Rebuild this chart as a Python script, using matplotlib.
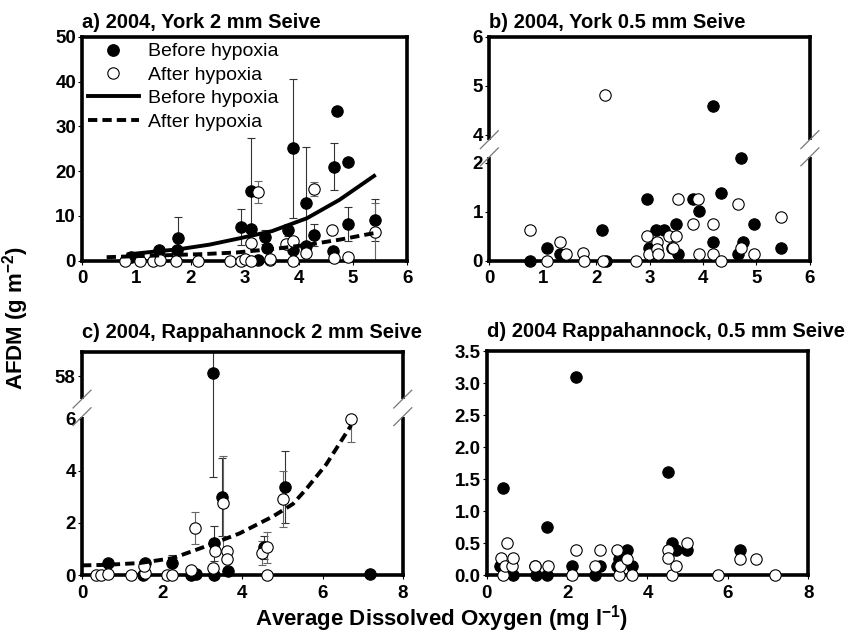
import numpy as np
import matplotlib
matplotlib.use('Agg')
import matplotlib.pyplot as plt
from matplotlib.lines import Line2D
from matplotlib.patches import Rectangle
from matplotlib.ticker import FixedLocator, FormatStrFormatter

plt.rcParams['font.family'] = ['Liberation Sans', 'DejaVu Sans']
plt.rcParams['mathtext.fontset'] = 'custom'
plt.rcParams['mathtext.rm'] = 'Liberation Sans:bold'
plt.rcParams['mathtext.bf'] = 'Liberation Sans:bold'
plt.rcParams['mathtext.default'] = 'regular'

# ---------------- Panel a: York 2 mm ----------------
a_bef_x = [0.90, 1.42, 1.75, 1.77, 2.93, 3.11, 3.11, 3.25, 3.37, 3.42, 3.80, 3.90, 3.90,
           4.14, 4.14, 4.28, 4.64, 4.65, 4.70, 4.91, 4.91, 5.41]
a_bef_y = [0.8, 2.3, 2.3, 5.05, 7.5, 7.1, 15.6, 0.2, 5.3, 2.8, 6.9, 25.1, 2.3,
           12.8, 3.2, 5.8, 2.1, 21.0, 33.5, 22.1, 8.2, 9.1]
a_bef_e = [0, 0, 0, 4.65, 4.0, 0, 11.9, 0, 1.6, 0, 1.3, 15.5, 0,
           12.6, 0, 2.4, 0, 5.3, 0, 0, 3.8, 4.6]
a_aft_x = [0.79, 1.07, 1.31, 1.43, 1.74, 2.14, 2.73, 2.94, 3.00, 3.11, 3.11, 3.25, 3.47, 3.47,
           3.77, 3.90, 3.90, 4.14, 4.28, 4.62, 4.65, 4.91, 5.41]
a_aft_y = [0.0, 0.0, 0.0, 0.2, 0.0, 0.0, 0.0, 0.0, 0.4, 0.0, 3.9, 15.4, 0.2, 0.3,
           3.8, 4.5, 0.0, 1.7, 16.0, 6.9, 0.6, 0.8, 6.5]
a_aft_e = [0, 0, 0, 0, 0, 0, 0, 0, 0, 0, 0, 2.4, 0, 0,
           0, 0, 0, 0, 1.6, 0, 0, 0, 6.4]
a_fit_bef_x = [0.82, 1.30, 1.80, 2.35, 2.90, 3.50, 4.15, 4.75, 5.42]
a_fit_bef_y = [1.4, 2.0, 2.6, 3.6, 5.0, 6.6, 9.5, 13.6, 19.2]
a_fit_aft_x = [0.45, 1.20, 2.25, 2.85, 3.65, 4.15, 4.75, 5.40]
a_fit_aft_y = [0.8, 1.1, 1.5, 1.85, 2.8, 3.55, 4.7, 6.2]

# ---------------- Panel b: York 0.5 mm ----------------
b_bef_x = [0.76, 1.07, 1.32, 2.11, 2.18, 2.96, 2.98, 3.12, 3.27, 3.42, 3.49, 3.54, 3.81,
           3.93, 4.18, 4.18, 4.33, 4.71, 4.66, 4.74, 4.96, 5.46]
b_bef_y = [0.0, 0.26, 0.13, 0.63, 0.0, 1.27, 0.26, 0.63, 0.63, 0.26, 0.76, 0.13, 1.27,
           1.01, 4.58, 0.39, 1.39, 2.1, 0.13, 0.39, 0.76, 0.26]
b_aft_x = [0.76, 1.07, 1.32, 1.43, 1.75, 1.77, 2.13, 2.16, 2.74, 2.96, 2.99, 3.13, 3.13,
           3.16, 3.37, 3.44, 3.50, 3.54, 3.82, 3.91, 3.93, 4.18, 4.18, 4.33, 4.66, 4.71,
           4.96, 5.46]
b_aft_y = [0.63, 0.0, 0.39, 0.13, 0.15, 0.0, 0.0, 4.82, 0.0, 0.5, 0.13, 0.39, 0.23,
           0.13, 0.5, 0.26, 0.5, 1.27, 0.76, 1.27, 0.13, 0.76, 0.13, 0.0, 1.15, 0.26,
           0.13, 0.89]

# ---------------- Panel c: Rappahannock 2 mm ----------------
c_bef_x = [0.65, 1.52, 1.56, 2.24, 2.72, 2.85, 3.26, 3.28, 3.28, 3.50, 3.64, 4.53, 5.05, 7.17]
c_bef_y = [0.48, 0.0, 0.46, 0.46, 0.0, 0.05, 58.15, 1.22, 0.0, 2.98, 0.14, 1.06, 3.37, 0.05]
c_bef_e = [0, 0, 0, 0.3, 0, 0, 54.4, 0.68, 0, 1.5, 0, 0.45, 1.38, 0]
c_aft_x = [0.36, 0.48, 0.65, 1.23, 1.56, 1.54, 2.12, 2.24, 2.72, 2.81, 3.26, 3.32, 3.51,
           3.62, 3.62, 4.49, 4.62, 4.62, 5.01, 6.71]
c_aft_y = [0.0, 0.0, 0.05, 0.0, 0.08, 0.33, 0.0, 0.0, 0.18, 1.81, 0.27, 0.94, 2.78,
           0.94, 0.6, 0.84, 1.06, 0.0, 2.92, 6.0]
c_aft_e = [0, 0, 0, 0, 0, 0, 0, 0, 0, 0.6, 0, 0, 1.8,
           0, 0, 0.45, 0.58, 0, 1.07, 0.9]
c_fit_x = [0.0, 0.6, 1.44, 2.27, 3.10, 3.93, 4.76, 5.26, 5.59, 6.09, 6.71]
c_fit_y = [0.37, 0.39, 0.46, 0.65, 1.11, 1.60, 2.25, 2.73, 3.30, 4.25, 5.75]

# ---------------- Panel d: Rappahannock 0.5 mm ----------------
d_bef_x = [0.40, 0.33, 0.66, 1.23, 1.20, 1.51, 1.51, 2.11, 2.22, 2.69, 2.82, 3.28, 3.50,
           3.61, 3.25, 4.50, 4.60, 4.71, 4.99, 6.30]
d_bef_y = [1.36, 0.14, 0.0, 0.0, 0.14, 0.75, 0.0, 0.14, 3.1, 0.0, 0.14, 0.25, 0.39,
           0.14, 0.14, 1.61, 0.5, 0.39, 0.39, 0.39]
d_aft_x = [0.35, 0.50, 0.41, 0.46, 0.62, 0.66, 1.20, 1.53, 2.11, 2.22, 2.69, 2.82, 3.25,
           3.28, 3.32, 3.50, 3.61, 4.50, 4.50, 4.60, 4.71, 4.99, 5.75, 6.30, 6.70, 7.17]
d_aft_y = [0.27, 0.5, 0.0, 0.14, 0.14, 0.27, 0.14, 0.14, 0.0, 0.39, 0.14, 0.39, 0.39,
           0.0, 0.14, 0.25, 0.0, 0.39, 0.27, 0.0, 0.14, 0.5, 0.0, 0.25, 0.25, 0.0]

titles = ["a) 2004, York 2 mm Seive", "b) 2004, York 0.5 mm Seive",
          "c) 2004, Rappahannock 2 mm Seive", "d) 2004 Rappahannock, 0.5 mm Seive"]
legend_labels = ["Before hypoxia", "After hypoxia", "Before hypoxia", "After hypoxia"]

MS = 8.2
SPINE_W = 2.6
TICK_FS = 13.5
TITLE_FS = 14.5


def break_scale(lo, hi, gap):
    def fwd(y):
        y = np.asarray(y, dtype=float)
        return np.where(y <= lo, y,
                        np.where(y >= hi, y - hi + lo + gap,
                                 lo + (y - lo) / (hi - lo) * gap))

    def inv(v):
        v = np.asarray(v, dtype=float)
        return np.where(v <= lo, v,
                        np.where(v >= lo + gap, v - lo - gap + hi,
                                 lo + (v - lo) / gap * (hi - lo)))
    return fwd, inv


def break_marks(ax, f_lo, f_hi, dx, dy):
    for xf in (0.0, 1.0):
        ax.add_patch(Rectangle((xf - 0.007, f_lo), 0.014, f_hi - f_lo,
                               transform=ax.transAxes, facecolor='white',
                               edgecolor='none', clip_on=False, zorder=5))
        for yf in (f_lo, f_hi):
            ax.plot([xf - dx, xf + dx], [yf - dy, yf + dy], transform=ax.transAxes,
                    color='#777777', lw=0.9, clip_on=False, zorder=6)


def style(ax, xmax, xstep, title, tpad):
    for s in ax.spines.values():
        s.set_linewidth(SPINE_W)
    ax.set_xlim(0, xmax)
    ax.set_xticks(np.arange(0, xmax + 0.01, xstep))
    ax.tick_params(direction='out', length=3, width=0.8, labelsize=TICK_FS)
    ax.tick_params(axis='x', pad=4)
    ax.tick_params(axis='y', pad=1.5)
    for lab in ax.get_xticklabels() + ax.get_yticklabels():
        lab.set_fontweight('bold')
    ax.set_title(title, loc='left', fontsize=TITLE_FS, fontweight='bold', pad=tpad, x=0.0)


def points(ax, bx, by, ax_, ay, be=None, ae=None):
    if be is not None:
        sel = [i for i, e in enumerate(be) if e > 0]
        ax.errorbar([bx[i] for i in sel], [by[i] for i in sel], yerr=[be[i] for i in sel],
                    fmt='none', ecolor='#333333', elinewidth=0.8, capsize=3.2,
                    capthick=0.8, zorder=2)
    if ae is not None:
        sel = [i for i, e in enumerate(ae) if e > 0]
        ax.errorbar([ax_[i] for i in sel], [ay[i] for i in sel], yerr=[ae[i] for i in sel],
                    fmt='none', ecolor='#666666', elinewidth=0.8, capsize=3.2,
                    capthick=0.8, zorder=2)
    ax.plot(bx, by, 'o', ms=MS, mfc='black', mec='black', mew=0.8, ls='none',
            zorder=3, clip_on=False)
    ax.plot(ax_, ay, 'o', ms=MS, mfc='white', mec='black', mew=0.8, ls='none',
            zorder=3.5, clip_on=False)


fig = plt.figure(figsize=(8.57, 6.36), dpi=100)
axa = fig.add_axes([0.096, 0.590, 0.379, 0.352])
axb = fig.add_axes([0.571, 0.590, 0.374, 0.352])
axc = fig.add_axes([0.0957, 0.0959, 0.3743, 0.3506])
axd = fig.add_axes([0.568, 0.0959, 0.375, 0.3521])

# Panel a
points(axa, a_bef_x, a_bef_y, a_aft_x, a_aft_y, a_bef_e, a_aft_e)
axa.plot(a_fit_bef_x, a_fit_bef_y, '-', color='black', lw=2.8, zorder=4,
         solid_capstyle='butt')
axa.plot(a_fit_aft_x, a_fit_aft_y, '--', color='black', lw=2.8, dashes=(2.4, 1.3), zorder=4)
axa.set_ylim(0, 50)
axa.set_yticks(np.arange(0, 51, 10))
style(axa, 6, 1, titles[0], 6.5)
handles = [Line2D([], [], marker='o', ls='none', ms=MS, mfc='black', mec='black'),
           Line2D([], [], marker='o', ls='none', ms=MS, mfc='white', mec='black', mew=0.8),
           Line2D([], [], color='black', lw=2.8),
           Line2D([], [], color='black', lw=2.8, ls='--', dashes=(2.4, 1.3))]
axa.legend(handles, legend_labels, loc='upper left', frameon=False, fontsize=14,
           handlelength=2.6, handletextpad=0.48, labelspacing=0.3,
           borderaxespad=0.1, borderpad=0.2)

# Panel b (broken axis)
fb, ib = break_scale(2.17, 3.95, 0.35)
points(axb, b_bef_x, b_bef_y, b_aft_x, b_aft_y)
axb.set_yscale('function', functions=(fb, ib))
axb.set_ylim(0, 6)
axb.yaxis.set_major_locator(FixedLocator([0, 1, 2, 4, 5, 6]))
axb.yaxis.set_major_formatter(FormatStrFormatter('%d'))
axb.yaxis.set_minor_locator(FixedLocator([]))
style(axb, 6, 1, titles[1], 6.5)
break_marks(axb, 0.464, 0.541, 0.028, 0.04)

# Panel c (broken axis)
fc, ic = break_scale(6.05, 57.1, 0.68)
points(axc, c_bef_x, c_bef_y, c_aft_x, c_aft_y, c_bef_e, c_aft_e)
axc.plot(c_fit_x, c_fit_y, '--', color='black', lw=2.8, dashes=(2.4, 1.3), zorder=4)
axc.set_yscale('function', functions=(fc, ic))
axc.set_ylim(0, 58.94)
axc.yaxis.set_major_locator(FixedLocator([0, 2, 4, 6, 58]))
axc.yaxis.set_major_formatter(FormatStrFormatter('%d'))
axc.yaxis.set_minor_locator(FixedLocator([]))
style(axc, 8, 2, titles[2], 10)
break_marks(axc, 0.71, 0.789, 0.028, 0.04)

# Panel d
points(axd, d_bef_x, d_bef_y, d_aft_x, d_aft_y)
axd.set_ylim(0, 3.5)
axd.set_yticks(np.arange(0, 3.51, 0.5))
axd.yaxis.set_major_formatter(FormatStrFormatter('%.1f'))
style(axd, 8, 2, titles[3], 10)

fig.text(0.018, 0.50, 'AFDM (g m$^{-2}$)', rotation=90, ha='center', va='center',
         fontsize=16, fontweight='bold')
fig.text(0.515, 0.028, 'Average Dissolved Oxygen (mg l$^{-1}$)', ha='center', va='center',
         fontsize=16, fontweight='bold')

fig.savefig('out.png', dpi=100)
